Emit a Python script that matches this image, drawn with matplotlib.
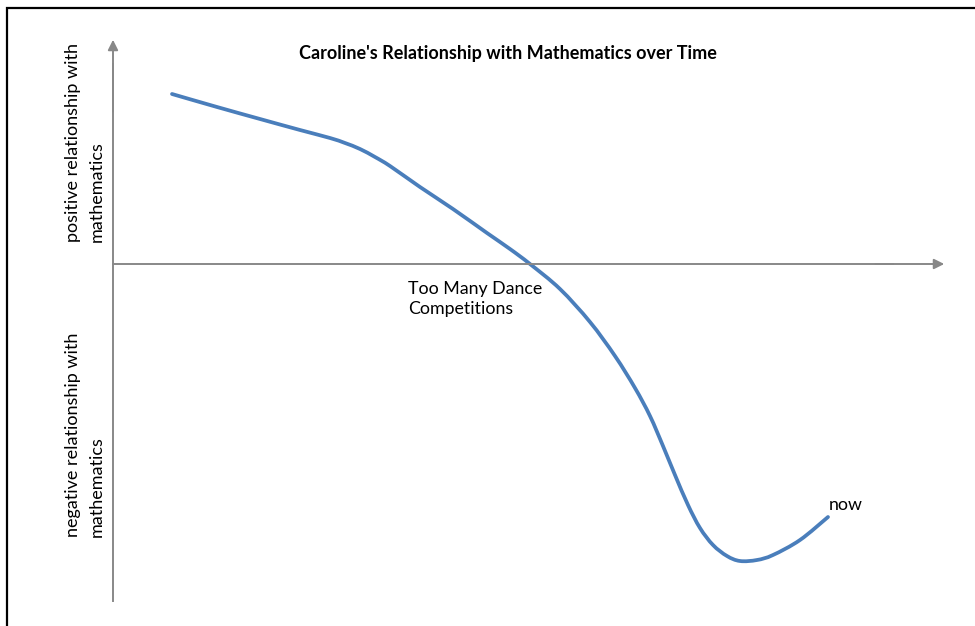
import matplotlib.pyplot as plt
from matplotlib.patches import Rectangle, PathPatch
from matplotlib.path import Path

# time vs. relationship (origin = where the axes cross)
time = [59, 104, 147, 187, 217, 232, 247, 262, 277, 307, 340, 374, 397,
        417, 447, 477, 502, 522, 537, 550, 562, 575, 587, 600, 614, 627,
        644, 660, 687, 715]
feeling = [170, 157, 145, 134, 126, 121, 115, 107, 98, 77, 55, 31, 15, 0,
           -25, -58, -92, -124, -152, -182, -211, -241, -264, -281, -292,
           -297, -296, -291, -276, -253]

title = "Caroline's Relationship with Mathematics over Time"
pos_label = "positive relationship with\nmathematics"
neg_label = "negative relationship with\nmathematics"
event_label = "Too Many Dance\nCompetitions"
end_label = "now"

fig = plt.figure(figsize=(9.75, 6.26), dpi=100)
ax = fig.add_axes([0, 0, 1, 1])
ax.set_xlim(-113, 862)
ax.set_ylim(-362, 264)
ax.axis('off')

font = 'Lato'
gray = '#888888'

# frame around the picture (only left and top edges show)
fig.patches.append(Rectangle((7 / 975, -0.1), 1.2, 1.1 - 8 / 626,
                             transform=fig.transFigure, fill=False,
                             edgecolor='black', linewidth=1.6))

# axes with arrow heads
ax.plot([0, 0], [-337, 200], color=gray, lw=1.4)
ax.annotate('', xy=(0, 227), xytext=(0, 150),
            arrowprops=dict(arrowstyle='-|>', color=gray, lw=1.4,
                            mutation_scale=15))
ax.plot([0, 780], [0, 0], color=gray, lw=1.4)
ax.annotate('', xy=(834, 0), xytext=(760, 0),
            arrowprops=dict(arrowstyle='-|>', color=gray, lw=1.4,
                            mutation_scale=15))

# smooth curve through the points (Catmull-Rom as cubic Bezier segments)
pts = list(zip(time, feeling))
verts = [pts[0]]
codes = [Path.MOVETO]
for i in range(len(pts) - 1):
    p0 = pts[max(i - 1, 0)]
    p1 = pts[i]
    p2 = pts[i + 1]
    p3 = pts[min(i + 2, len(pts) - 1)]
    c1 = (p1[0] + (p2[0] - p0[0]) / 6, p1[1] + (p2[1] - p0[1]) / 6)
    c2 = (p2[0] - (p3[0] - p1[0]) / 6, p2[1] - (p3[1] - p1[1]) / 6)
    verts += [c1, c2, p2]
    codes += [Path.CURVE4] * 3
ax.add_patch(PathPatch(Path(verts, codes), fill=False, edgecolor='#4A7EBB',
                       lw=2.7, capstyle='round', joinstyle='round'))

ax.text(395, 211, title, ha='center', va='center', fontsize=13,
        fontweight='bold', family=font)
ax.text(295, -35, event_label, ha='left', va='center', fontsize=12.8,
        family=font, linespacing=1.3)
ax.text(716, -241, end_label, ha='left', va='center', fontsize=12.8,
        family=font)
ax.text(-28, 22, pos_label, ha='center', va='bottom', fontsize=13,
        family=font, rotation=90, linespacing=1.55, multialignment='left')
ax.text(-28, -273, neg_label, ha='center', va='bottom', fontsize=13,
        family=font, rotation=90, linespacing=1.55, multialignment='left')

fig.savefig('out.png', dpi=100)
